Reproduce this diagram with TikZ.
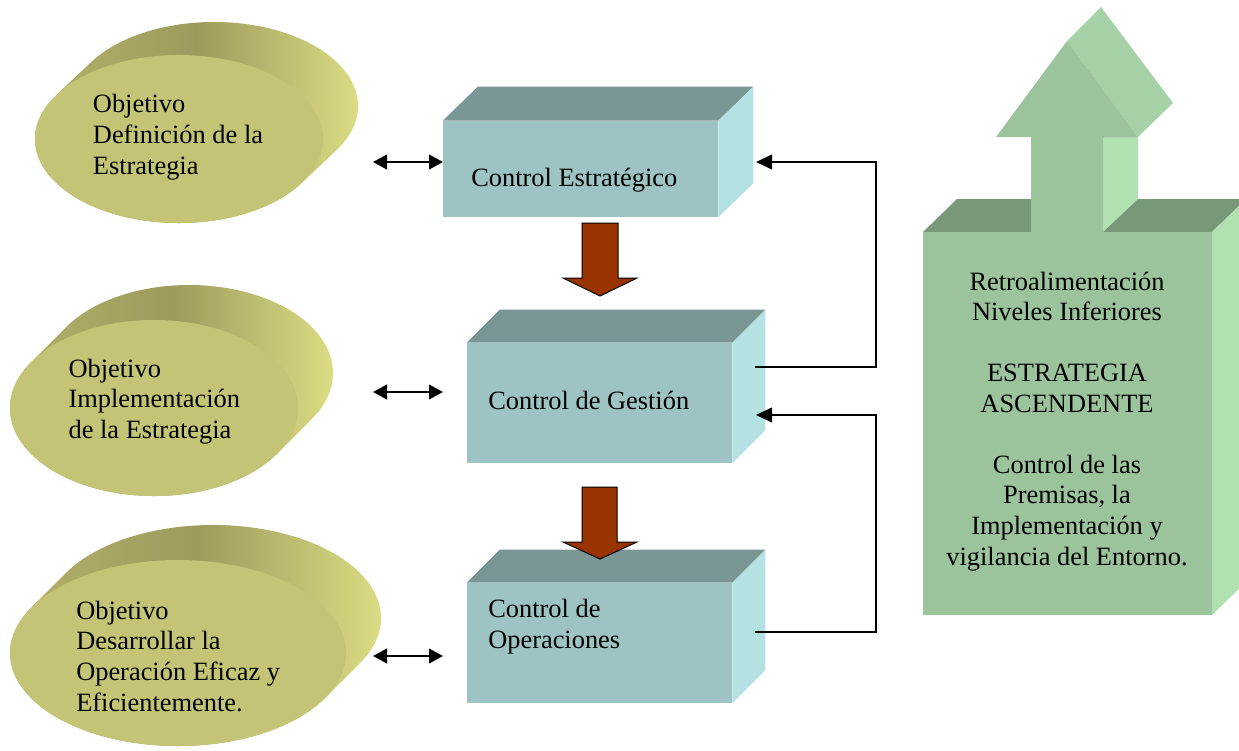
\documentclass[tikz,border=0pt]{standalone}
\usepackage{fontspec}
\setmainfont{Liberation Serif}
\usetikzlibrary{arrows.meta,calc}
\definecolor{tealfront}{HTML}{9DC3C3}
\definecolor{tealtop}{HTML}{7A9795}
\definecolor{tealside}{HTML}{B4E1E1}
\definecolor{grfront}{HTML}{9CC49C}
\definecolor{grtop}{HTML}{799879}
\definecolor{grside}{HTML}{B1E0B1}
\definecolor{grhead}{HTML}{A6D1A6}
\definecolor{brownarrow}{HTML}{993300}
\definecolor{olivefront}{HTML}{C3C475}
\definecolor{oliveleft}{HTML}{B5B56B}
\definecolor{olivedark}{HTML}{9C9B5D}
\definecolor{olivelight}{HTML}{E3E488}
\begin{document}
\begin{tikzpicture}[x=0.75pt,y=-0.75pt,
  txt/.style={font=\fontsize{19.8pt}{22.9pt}\selectfont, inner sep=0pt},
  boxface/.style={draw=none, inner sep=0pt, fill=tealfront, rectangle},
  hull/.style={left color=oliveleft, right color=olivelight, middle color=olivedark},
  dbl/.style={{Triangle[length=10.5pt,width=11pt]}-{Triangle[length=10.5pt,width=11pt]}, line width=1.5pt},
  fb/.style={-{Triangle[length=12pt,width=11pt]}, line width=1.5pt},
  downarrow/.style={fill=brownarrow, draw=black, line width=0.75pt, line join=miter}]
\useasboundingbox (0,0) rectangle (1239,750);

% ---------- ellipses ----------
\path[hull] (179,139) ++(31.7:144 and 84) -- ++(35,-33)
  arc[start angle=31.7,end angle=-148.3,x radius=144,y radius=84] -- ++(-35,33)
  arc[start angle=211.7,end angle=31.7,x radius=144,y radius=84] -- cycle;
\fill[olivefront] (179,139) ellipse[x radius=144, y radius=84];

\path[hull] (154,408) ++(31.4:144 and 88) -- ++(35,-35)
  arc[start angle=31.4,end angle=-148.6,x radius=144,y radius=88] -- ++(-35,35)
  arc[start angle=211.4,end angle=31.4,x radius=144,y radius=88] -- cycle;
\fill[olivefront] (154,408) ellipse[x radius=144, y radius=88];

\path[hull] (178,653) ++(29:168 and 93) -- ++(35,-35)
  arc[start angle=29,end angle=-151,x radius=168,y radius=93] -- ++(-35,35)
  arc[start angle=209,end angle=29,x radius=168,y radius=93] -- cycle;
\fill[olivefront] (178,653) ellipse[x radius=168, y radius=93];

\node[txt, anchor=base west, align=left] (obj1) at (92.7,174)
  {Objetivo\\Definición de la\\Estrategia};
\node[txt, anchor=base west, align=left] (obj2) at (68.3,438.3)
  {Objetivo\\Implementación\\de la Estrategia};
\node[txt, anchor=base west, align=left] (obj3) at (76,711)
  {Objetivo\\Desarrollar la\\Operación Eficaz y\\Eficientemente.};

% ---------- boxes ----------
\node[boxface, minimum width=206.25pt, minimum height=72pt] (cs) at (580.5,169) {};
\fill[tealtop] (cs.north west) -- ++(35,-34) -- ($(cs.north east)+(35,-34)$) -- (cs.north east) -- cycle;
\fill[tealside] (cs.north east) -- ++(35,-34) -- ($(cs.south east)+(35,-34)$) -- (cs.south east) -- cycle;

\node[boxface, minimum width=198.75pt, minimum height=90pt] (cg) at (599.5,403) {};
\fill[tealtop] (cg.north west) -- ++(33,-33) -- ($(cg.north east)+(33,-33)$) -- (cg.north east) -- cycle;
\fill[tealside] (cg.north east) -- ++(33,-33) -- ($(cg.south east)+(33,-33)$) -- (cg.south east) -- cycle;

\node[boxface, minimum width=198.75pt, minimum height=90pt] (co) at (599.5,643) {};
\fill[tealtop] (co.north west) -- ++(33,-33) -- ($(co.north east)+(33,-33)$) -- (co.north east) -- cycle;
\fill[tealside] (co.north east) -- ++(33,-33) -- ($(co.south east)+(33,-33)$) -- (co.south east) -- cycle;

\node[txt, anchor=base west] (tcs) at (471,186.7) {Control Estratégico};
\node[txt, anchor=base west] (tcg) at (488,409.3) {Control de Gestión};
\node[txt, anchor=base west, align=left] (tco) at (488,648.3) {Control de\\Operaciones};

% ---------- brown arrows ----------
\draw[downarrow] (582,223) -- (618,223) -- (618,278) -- (637,278) -- (600,296) -- (563,278) -- (582,278) -- cycle;
\draw[downarrow] (582,487) -- (617,487) -- (617,542) -- (637,542) -- (600,559) -- (563,542) -- (582,542) -- cycle;

% ---------- double arrows ----------
\coordinate (d1a) at (373,162); \coordinate (d1b) at (443,162);
\coordinate (d2a) at (373,392); \coordinate (d2b) at (443,392);
\coordinate (d3a) at (373,656); \coordinate (d3b) at (443,656);
\draw[dbl] (d1a) -- (d1b);
\draw[dbl] (d2a) -- (d2b);
\draw[dbl] (d3a) -- (d3b);

% ---------- feedback ----------
\coordinate (f1s) at (755,367); \coordinate (f1e) at (756,162); \coordinate (f1c) at (876,367);
\coordinate (f2s) at (755,632); \coordinate (f2e) at (756,415); \coordinate (f2c) at (876,632);
\draw[fb] (f1s) -- (f1c) |- (f1e);
\draw[fb] (f2s) -- (f2c) |- (f2e);

% ---------- green up arrow block ----------
\fill[grtop] (923,232) -- (957,199) -- (1246,199) -- (1212,232) -- cycle;
\fill[grside] (1103,137) -- (1138,137) -- (1138,199) -- (1103,232) -- cycle;
\fill[grhead] (1067,41) -- (1101,7) -- (1173,103) -- (1138,137) -- cycle;
\fill[grside] (1212,232) -- (1246,199) -- (1246,582) -- (1212,615) -- cycle;
\fill[grfront] (923,232) -- (1031,232) -- (1031,137) -- (996,137) -- (1067,41) -- (1138,137)
  -- (1103,137) -- (1103,232) -- (1212,232) -- (1212,615) -- (923,615) -- cycle;
\node[txt, anchor=base, align=center] (retro) at (1067,565)
  {Retroalimentación\\Niveles Inferiores\\[22.9pt]ESTRATEGIA\\ASCENDENTE\\[22.9pt]Control de las\\Premisas, la\\Implementación y\\vigilancia del Entorno.};
\end{tikzpicture}
\end{document}
